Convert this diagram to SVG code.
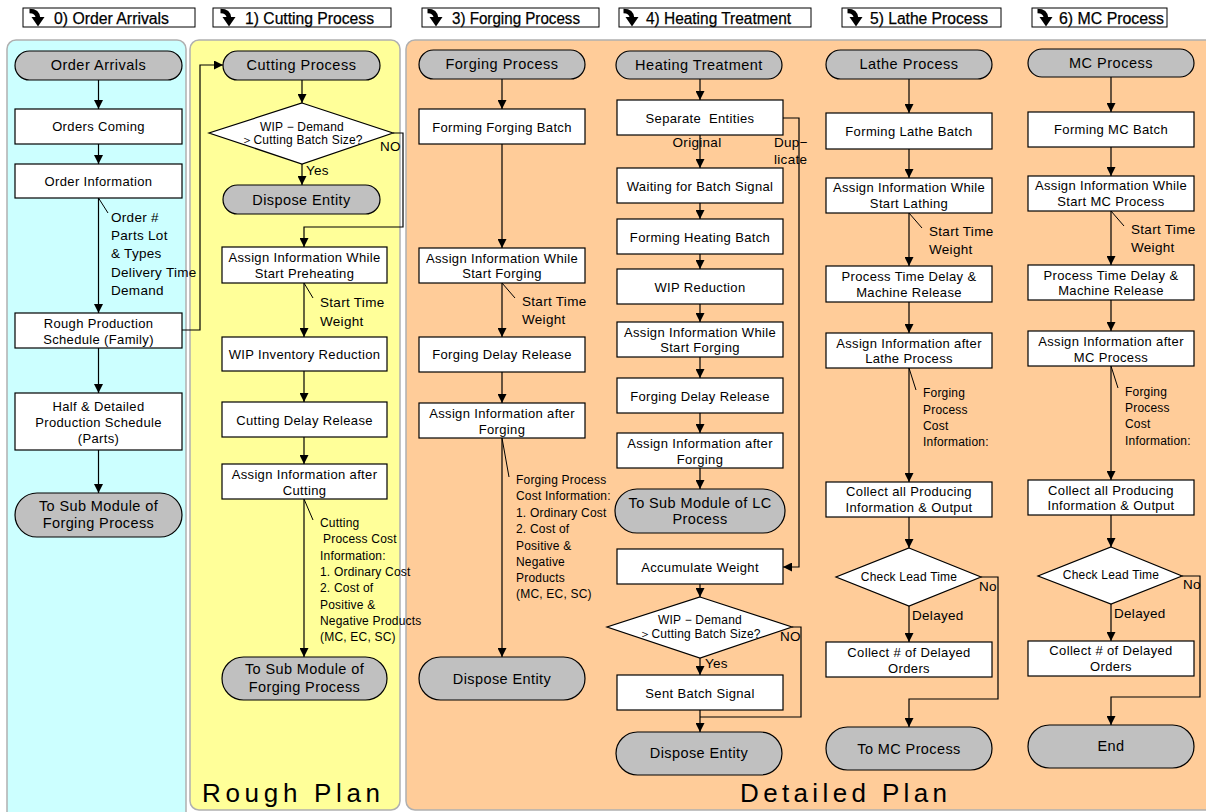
<svg xmlns="http://www.w3.org/2000/svg" xmlns:xlink="http://www.w3.org/1999/xlink" width="1206" height="812" viewBox="0 0 1206 812">
<defs>
<style>
.box{fill:#fff;stroke:#000;stroke-width:1.2}
.term{fill:#c0c0c0;stroke:#000;stroke-width:1.2}
.dia{fill:#fff;stroke:#000;stroke-width:1.2}
.hdr{fill:#fff;stroke:#000;stroke-width:1}
.t{font-family:"Liberation Sans",Arial,sans-serif;font-size:13px;fill:#000;text-anchor:middle;letter-spacing:0.35px}
.tt{font-family:"Liberation Sans",Arial,sans-serif;font-size:14.5px;fill:#000;text-anchor:middle;letter-spacing:0.5px}
.tb{font-family:"Liberation Sans",Arial,sans-serif;font-size:14.5px;fill:#000;text-anchor:middle;letter-spacing:0.4px}
.d{font-family:"Liberation Sans",Arial,sans-serif;font-size:12px;fill:#000;text-anchor:middle;letter-spacing:0.2px}
.a{font-family:"Liberation Sans",Arial,sans-serif;font-size:13.5px;fill:#000;letter-spacing:0.3px}
.s{font-family:"Liberation Sans",Arial,sans-serif;font-size:12px;fill:#000;letter-spacing:0.2px}
.h{font-family:"Liberation Sans",Arial,sans-serif;font-size:16px;fill:#000;stroke:#000;stroke-width:0.25}
.big{font-family:"Liberation Sans",Arial,sans-serif;font-size:26px;fill:#000}
.c{fill:none;stroke:#000;stroke-width:1.2}
.l{fill:none;stroke:#000;stroke-width:1}
</style>
<marker id="ar" viewBox="0 0 10 10" refX="10" refY="5" markerWidth="9" markerHeight="9" markerUnits="userSpaceOnUse" orient="auto">
<path d="M0,0 L10,5 L0,10 z" fill="#000"/>
</marker>
<g id="icon">
<path d="M0.5,2.5 Q8.5,2.5 9,9.5" fill="none" stroke="#000" stroke-width="4.6"/>
<path d="M2.5,8.5 L15.5,8.5 L9,18 z" fill="#000"/>
</g>
</defs>

<!-- panels -->
<g id="panels">
<rect x="7" y="40" width="179" height="790" rx="9" fill="#ccffff" stroke="#b0b0b0" stroke-width="1.5"/>
<rect x="190" y="40" width="210" height="770" rx="9" fill="#ffff99" stroke="#b0b0b0" stroke-width="1.5"/>
<rect x="406" y="40" width="820" height="770" rx="9" fill="#ffcc99" stroke="#b0b0b0" stroke-width="1.5"/>
<text class="big" x="202" y="802" textLength="178" lengthAdjust="spacing">Rough Plan</text>
<text class="big" x="740" y="802" textLength="207" lengthAdjust="spacing">Detailed Plan</text>
</g>

<!-- headers -->
<g id="headers">
<g id="h0"><rect class="hdr" x="23" y="8" width="172" height="19"/><use xlink:href="#icon" x="29" y="8.5"/><text class="h" x="54" y="23.5" textLength="115" lengthAdjust="spacingAndGlyphs">0) Order Arrivals</text></g>
<g id="h1"><rect class="hdr" x="213" y="8" width="178" height="19"/><use xlink:href="#icon" x="220" y="8.5"/><text class="h" x="245" y="23.5" textLength="129" lengthAdjust="spacingAndGlyphs">1) Cutting Process</text></g>
<g id="h3"><rect class="hdr" x="422" y="8" width="177" height="19"/><use xlink:href="#icon" x="427" y="8.5"/><text class="h" x="452" y="23.5" textLength="128" lengthAdjust="spacingAndGlyphs">3) Forging Process</text></g>
<g id="h4"><rect class="hdr" x="619" y="8" width="192" height="19"/><use xlink:href="#icon" x="623" y="8.5"/><text class="h" x="646" y="23.5" textLength="145" lengthAdjust="spacingAndGlyphs">4) Heating Treatment</text></g>
<g id="h5"><rect class="hdr" x="842" y="8" width="159" height="19"/><use xlink:href="#icon" x="847" y="8.5"/><text class="h" x="870" y="23.5" textLength="118" lengthAdjust="spacingAndGlyphs">5) Lathe Process</text></g>
<g id="h6"><rect class="hdr" x="1032" y="8" width="135" height="19"/><use xlink:href="#icon" x="1037" y="8.5"/><text class="h" x="1059" y="23.5" textLength="105" lengthAdjust="spacingAndGlyphs">6) MC Process</text></g>
</g>

<!-- connectors -->
<g id="connectors">
<path class="c" d="M98.5,80 V109" marker-end="url(#ar)"/>
<path class="c" d="M98.5,144 V164" marker-end="url(#ar)"/>
<path class="c" d="M98.5,198 V313" marker-end="url(#ar)"/>
<path class="l" d="M98.5,198 L108,213"/>
<path class="c" d="M98.5,348 V393" marker-end="url(#ar)"/>
<path class="c" d="M98.5,450 V493" marker-end="url(#ar)"/>
<path class="c" d="M182,330 H200 V65 H223" marker-end="url(#ar)"/>
<path class="c" d="M302,80 V103" marker-end="url(#ar)"/>
<path class="c" d="M302,164 V185" marker-end="url(#ar)"/>
<path class="c" d="M393,133 H403 V227 H304 V247" marker-end="url(#ar)"/>
<path class="c" d="M304,283 V337" marker-end="url(#ar)"/>
<path class="l" d="M304,283 L313,298"/>
<path class="c" d="M304,371 V402" marker-end="url(#ar)"/>
<path class="c" d="M304,437 V464" marker-end="url(#ar)"/>
<path class="c" d="M304,499 V657" marker-end="url(#ar)"/>
<path class="l" d="M304,499 L313,520"/>
<path class="c" d="M502,79 V109" marker-end="url(#ar)"/>
<path class="c" d="M502,144 V248" marker-end="url(#ar)"/>
<path class="c" d="M502,283 V337" marker-end="url(#ar)"/>
<path class="l" d="M502,283 L515,298"/>
<path class="c" d="M502,372 V403" marker-end="url(#ar)"/>
<path class="c" d="M502,438 V657" marker-end="url(#ar)"/>
<path class="l" d="M502,438 L509,477"/>
<path class="c" d="M700,79 V100" marker-end="url(#ar)"/>
<path class="c" d="M700,135 V168" marker-end="url(#ar)"/>
<path class="c" d="M783,118 H799 V567 H783" marker-end="url(#ar)"/>
<path class="c" d="M700,203 V219" marker-end="url(#ar)"/>
<path class="c" d="M700,254 V269" marker-end="url(#ar)"/>
<path class="c" d="M700,304 V322" marker-end="url(#ar)"/>
<path class="c" d="M700,357 V378" marker-end="url(#ar)"/>
<path class="c" d="M700,413 V433" marker-end="url(#ar)"/>
<path class="c" d="M700,468 V489" marker-end="url(#ar)"/>
<path class="c" d="M700,584 V597" marker-end="url(#ar)"/>
<path class="c" d="M700,658 V675" marker-end="url(#ar)"/>
<path class="c" d="M792,627 H801 V717 H700"/>
<path class="c" d="M700,710 V732" marker-end="url(#ar)"/>
<path class="c" d="M909,79 V113" marker-end="url(#ar)"/>
<path class="c" d="M909,149 V178" marker-end="url(#ar)"/>
<path class="c" d="M909,213 V266" marker-end="url(#ar)"/>
<path class="l" d="M909,213 L922,228"/>
<path class="c" d="M909,302 V333" marker-end="url(#ar)"/>
<path class="c" d="M909,368 V482" marker-end="url(#ar)"/>
<path class="l" d="M909,368 L916,390"/>
<path class="c" d="M909,517 V548" marker-end="url(#ar)"/>
<path class="c" d="M909,606 V642" marker-end="url(#ar)"/>
<path class="c" d="M981,577 H998 V699 H909 V727" marker-end="url(#ar)"/>
<path class="c" d="M1111,77 V112" marker-end="url(#ar)"/>
<path class="c" d="M1111,147 V176" marker-end="url(#ar)"/>
<path class="c" d="M1111,211 V265" marker-end="url(#ar)"/>
<path class="l" d="M1111,211 L1124,226"/>
<path class="c" d="M1111,300 V331" marker-end="url(#ar)"/>
<path class="c" d="M1111,366 V480" marker-end="url(#ar)"/>
<path class="l" d="M1111,366 L1118,388"/>
<path class="c" d="M1111,515 V547" marker-end="url(#ar)"/>
<path class="c" d="M1111,604 V641" marker-end="url(#ar)"/>
<path class="c" d="M1182,576 H1200 V697 H1111 V725" marker-end="url(#ar)"/>
</g>

<!-- connector labels -->
<g id="labels">
<text class="a" x="111" y="222">Order #</text>
<text class="a" x="111" y="240">Parts Lot</text>
<text class="a" x="111" y="258">&amp; Types</text>
<text class="a" x="111" y="277">Delivery Time</text>
<text class="a" x="111" y="295">Demand</text>
<text class="a" x="306" y="175">Yes</text>
<text class="a" x="380" y="151">NO</text>
<text class="a" x="320" y="306.5">Start Time</text>
<text class="a" x="320" y="325.5">Weight</text>
<text class="s" x="320" y="527">Cutting</text>
<text class="s" x="323" y="543"> Process Cost</text>
<text class="s" x="320" y="560">Information:</text>
<text class="s" x="320" y="576">1. Ordinary Cost</text>
<text class="s" x="320" y="592">2. Cost of</text>
<text class="s" x="320" y="609">Positive &amp;</text>
<text class="s" x="320" y="625">Negative Products</text>
<text class="s" x="320" y="641">(MC, EC, SC)</text>
<text class="a" x="522" y="305.5">Start Time</text>
<text class="a" x="522" y="323.5">Weight</text>
<text class="s" x="516" y="484">Forging Process</text>
<text class="s" x="516" y="500">Cost Information:</text>
<text class="s" x="516" y="517">1. Ordinary Cost</text>
<text class="s" x="516" y="533">2. Cost of</text>
<text class="s" x="516" y="550">Positive &amp;</text>
<text class="s" x="516" y="566">Negative</text>
<text class="s" x="516" y="582">Products</text>
<text class="s" x="516" y="598">(MC, EC, SC)</text>
<text class="a" x="697" y="147" text-anchor="middle">Original</text>
<text class="a" x="774" y="147">Dup−</text>
<text class="a" x="774" y="164">licate</text>
<text class="a" x="780" y="641">NO</text>
<text class="a" x="705" y="668">Yes</text>
<text class="a" x="929" y="235.5">Start Time</text>
<text class="a" x="929" y="253.5">Weight</text>
<text class="s" x="923" y="397">Forging</text>
<text class="s" x="923" y="414">Process</text>
<text class="s" x="923" y="430">Cost</text>
<text class="s" x="923" y="446">Information:</text>
<text class="a" x="979" y="591">No</text>
<text class="a" x="912" y="620">Delayed</text>
<text class="a" x="1131" y="233.5">Start Time</text>
<text class="a" x="1131" y="251.5">Weight</text>
<text class="s" x="1125" y="396">Forging</text>
<text class="s" x="1125" y="412">Process</text>
<text class="s" x="1125" y="428">Cost</text>
<text class="s" x="1125" y="445">Information:</text>
<text class="a" x="1183" y="589">No</text>
<text class="a" x="1114" y="618">Delayed</text>
</g>

<!-- column 0 nodes -->
<g id="n-order-arrivals"><rect class="term" x="15" y="51" width="167" height="29" rx="14.5"/><text class="tt" x="98.5" y="70">Order Arrivals</text></g>
<g id="n-orders-coming"><rect class="box" x="15" y="109" width="167" height="35"/><text class="t" x="98.5" y="130.5">Orders Coming</text></g>
<g id="n-order-info"><rect class="box" x="15" y="164" width="167" height="34"/><text class="t" x="98.5" y="185.5">Order Information</text></g>
<g id="n-rough"><rect class="box" x="15" y="313" width="167" height="35"/><text class="t" x="98.5" y="327.5">Rough Production</text><text class="t" x="98.5" y="343.5">Schedule (Family)</text></g>
<g id="n-half"><rect class="box" x="15" y="393" width="167" height="57"/><text class="t" x="98.5" y="410.5">Half &amp; Detailed</text><text class="t" x="98.5" y="426.5">Production Schedule</text><text class="t" x="98.5" y="442.5">(Parts)</text></g>
<g id="n-sub-forging0"><rect class="term" x="15" y="493" width="167" height="44" rx="22"/><text class="tb" x="98.5" y="510.5">To Sub Module of</text><text class="tb" x="98.5" y="527.5">Forging Process</text></g>

<!-- cutting nodes -->
<g id="n-cutting"><rect class="term" x="223" y="51" width="157" height="29" rx="14.5"/><text class="tt" x="301.5" y="70">Cutting Process</text></g>
<g id="n-cut-dec"><polygon class="dia" points="302,103 393,133 302,164 209,133"/><text class="d" x="302" y="131">WIP − Demand</text><text class="d" x="302" y="144">＞Cutting Batch Size?</text></g>
<g id="n-cut-dispose"><rect class="term" x="223" y="185" width="157" height="29" rx="14.5"/><text class="tb" x="301.5" y="204.5">Dispose Entity</text></g>
<g id="n-preheat"><rect class="box" x="222" y="247" width="165" height="36"/><text class="t" x="304.5" y="261.5">Assign Information While</text><text class="t" x="304.5" y="277.5">Start Preheating</text></g>
<g id="n-wip-inv"><rect class="box" x="222" y="337" width="165" height="34"/><text class="t" x="304.5" y="358.5">WIP Inventory Reduction</text></g>
<g id="n-cut-delay"><rect class="box" x="222" y="402" width="165" height="35"/><text class="t" x="304.5" y="424.5">Cutting Delay Release</text></g>
<g id="n-after-cut"><rect class="box" x="222" y="464" width="165" height="35"/><text class="t" x="304.5" y="478.5">Assign Information after</text><text class="t" x="304.5" y="494.5">Cutting</text></g>
<g id="n-sub-forging1"><rect class="term" x="222" y="657" width="165" height="43" rx="21.5"/><text class="tb" x="304.5" y="673.5">To Sub Module of</text><text class="tb" x="304.5" y="691.5">Forging Process</text></g>

<!-- forging nodes -->
<g id="n-forging"><rect class="term" x="419" y="50" width="166" height="29" rx="14.5"/><text class="tt" x="502" y="69">Forging Process</text></g>
<g id="n-form-forge"><rect class="box" x="419" y="109" width="166" height="35"/><text class="t" x="502" y="131.5">Forming Forging Batch</text></g>
<g id="n-start-forge"><rect class="box" x="419" y="248" width="166" height="35"/><text class="t" x="502" y="262.5">Assign Information While</text><text class="t" x="502" y="277.5">Start Forging</text></g>
<g id="n-forge-delay"><rect class="box" x="419" y="337" width="166" height="35"/><text class="t" x="502" y="358.5">Forging Delay Release</text></g>
<g id="n-after-forge"><rect class="box" x="419" y="403" width="166" height="35"/><text class="t" x="502" y="417.5">Assign Information after</text><text class="t" x="502" y="433.5">Forging</text></g>
<g id="n-forge-dispose"><rect class="term" x="419" y="657" width="166" height="43" rx="21.5"/><text class="tb" x="502" y="683.5">Dispose Entity</text></g>

<!-- heating nodes -->
<g id="n-heating"><rect class="term" x="616" y="51" width="166" height="28" rx="14"/><text class="tt" x="699" y="70">Heating Treatment</text></g>
<g id="n-separate"><rect class="box" x="617" y="100" width="166" height="35"/><text class="t" x="700" y="122.5">Separate&#160; Entities</text></g>
<g id="n-wait"><rect class="box" x="617" y="168" width="166" height="35"/><text class="t" x="700" y="190.5">Waiting for Batch Signal</text></g>
<g id="n-form-heat"><rect class="box" x="617" y="219" width="166" height="35"/><text class="t" x="700" y="241.5">Forming Heating Batch</text></g>
<g id="n-wip-red"><rect class="box" x="617" y="269" width="166" height="35"/><text class="t" x="700" y="291.5">WIP Reduction</text></g>
<g id="n-h-start-forge"><rect class="box" x="617" y="322" width="166" height="35"/><text class="t" x="700" y="336.5">Assign Information While</text><text class="t" x="700" y="351.5">Start Forging</text></g>
<g id="n-h-forge-delay"><rect class="box" x="617" y="378" width="166" height="35"/><text class="t" x="700" y="400.5">Forging Delay Release</text></g>
<g id="n-h-after-forge"><rect class="box" x="617" y="433" width="166" height="35"/><text class="t" x="700" y="447.5">Assign Information after</text><text class="t" x="700" y="463.5">Forging</text></g>
<g id="n-sub-lc"><rect class="term" x="615" y="489" width="170" height="44" rx="22"/><text class="tb" x="700" y="507.5">To Sub Module of LC</text><text class="tb" x="700" y="523.5">Process</text></g>
<g id="n-accum"><rect class="box" x="617" y="549" width="166" height="35"/><text class="t" x="700" y="571.5">Accumulate Weight</text></g>
<g id="n-h-dec"><polygon class="dia" points="700,597 792,627 700,658 607,627"/><text class="d" x="700" y="624">WIP − Demand</text><text class="d" x="700" y="638">＞Cutting Batch Size?</text></g>
<g id="n-sent"><rect class="box" x="617" y="675" width="166" height="35"/><text class="t" x="700" y="697.5">Sent Batch Signal</text></g>
<g id="n-h-dispose"><rect class="term" x="616" y="732" width="166" height="43" rx="21.5"/><text class="tb" x="699" y="758">Dispose Entity</text></g>

<!-- lathe nodes -->
<g id="n-lathe"><rect class="term" x="826" y="50" width="166" height="29" rx="14.5"/><text class="tt" x="909" y="69">Lathe Process</text></g>
<g id="n-form-lathe"><rect class="box" x="826" y="113" width="166" height="36"/><text class="t" x="909" y="135.5">Forming Lathe Batch</text></g>
<g id="n-start-lathe"><rect class="box" x="826" y="178" width="166" height="35"/><text class="t" x="909" y="191.5">Assign Information While</text><text class="t" x="909" y="207.5">Start Lathing</text></g>
<g id="n-l-delay"><rect class="box" x="826" y="266" width="166" height="36"/><text class="t" x="909" y="280.5">Process Time Delay &amp;</text><text class="t" x="909" y="296.5">Machine Release</text></g>
<g id="n-after-lathe"><rect class="box" x="826" y="333" width="166" height="35"/><text class="t" x="909" y="347.5">Assign Information after</text><text class="t" x="909" y="362.5">Lathe Process</text></g>
<g id="n-l-collect"><rect class="box" x="826" y="482" width="166" height="35"/><text class="t" x="909" y="495.5">Collect all Producing</text><text class="t" x="909" y="511.5">Information &amp; Output</text></g>
<g id="n-l-dec"><polygon class="dia" points="909,548 981,577 909,606 836,577"/><text class="d" x="909" y="581">Check Lead Time</text></g>
<g id="n-l-delayed"><rect class="box" x="826" y="642" width="166" height="35"/><text class="t" x="909" y="656.5">Collect # of Delayed</text><text class="t" x="909" y="672.5">Orders</text></g>
<g id="n-to-mc"><rect class="term" x="826" y="727" width="166" height="43" rx="21.5"/><text class="tb" x="909" y="753.5">To MC Process</text></g>

<!-- mc nodes -->
<g id="n-mc"><rect class="term" x="1028" y="49" width="166" height="28" rx="14"/><text class="tt" x="1111" y="68">MC Process</text></g>
<g id="n-form-mc"><rect class="box" x="1028" y="112" width="166" height="35"/><text class="t" x="1111" y="133.5">Forming MC Batch</text></g>
<g id="n-start-mc"><rect class="box" x="1028" y="176" width="166" height="35"/><text class="t" x="1111" y="189.5">Assign Information While</text><text class="t" x="1111" y="205.5">Start MC Process</text></g>
<g id="n-m-delay"><rect class="box" x="1028" y="265" width="166" height="35"/><text class="t" x="1111" y="279.5">Process Time Delay &amp;</text><text class="t" x="1111" y="294.5">Machine Release</text></g>
<g id="n-after-mc"><rect class="box" x="1028" y="331" width="166" height="35"/><text class="t" x="1111" y="345.5">Assign Information after</text><text class="t" x="1111" y="361.5">MC Process</text></g>
<g id="n-m-collect"><rect class="box" x="1028" y="480" width="166" height="35"/><text class="t" x="1111" y="494.5">Collect all Producing</text><text class="t" x="1111" y="509.5">Information &amp; Output</text></g>
<g id="n-m-dec"><polygon class="dia" points="1111,547 1182,576 1111,604 1038,576"/><text class="d" x="1111" y="579">Check Lead Time</text></g>
<g id="n-m-delayed"><rect class="box" x="1028" y="641" width="166" height="35"/><text class="t" x="1111" y="654.5">Collect # of Delayed</text><text class="t" x="1111" y="670.5">Orders</text></g>
<g id="n-end"><rect class="term" x="1028" y="725" width="166" height="43" rx="21.5"/><text class="tb" x="1111" y="750.5">End</text></g>
</svg>
